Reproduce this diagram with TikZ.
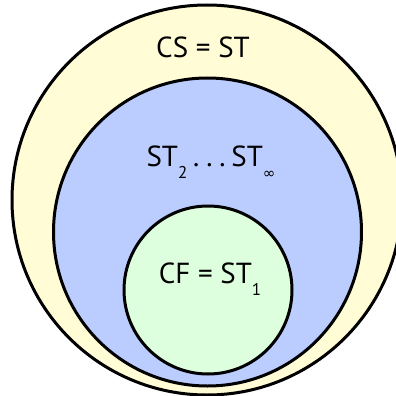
\documentclass[tikz,border=0pt]{standalone}
\usepackage{fontspec}
\setmainfont{PT Sans}
\newfontfamily\symfont{DejaVu Sans}
\usepackage{tikz, tkz-euclide}

\definecolor{csyellow}{RGB}{255,252,214}
\definecolor{stblue}{RGB}{187,205,255}
\definecolor{cfgreen}{RGB}{221,255,221}

\newcommand{\lowsub}[1]{\raisebox{-0.42em}{\fontsize{17}{17}\selectfont #1}}
\newcommand{\gapdots}{\hspace{0.2em}.\hspace{0.24em}.\hspace{0.24em}.\hspace{0.2em}}

\tikzset{
	ring/.style={line width=3pt, draw=black},
	setlabel/.style={font=\fontsize{29}{31}\selectfont, inner sep=0pt}
}

\begin{document}
\begin{tikzpicture}[x=1pt, y=-1pt]
		\useasboundingbox (0,0) rectangle (396,396);

		\tkzDefPoint(207,200){O}
		\tkzDefPoint(207.5,232){M}
		\tkzDefPoint(208,290){I}

		\draw[ring, fill=csyellow] (O) circle[radius=195pt];
		\draw[ring, fill=stblue] (M) circle[radius=154pt];
		\draw[ring, fill=cfgreen] (I) circle[radius=84pt];

		\node[setlabel, anchor=base] (cs) at (203,58) {CS = ST};
		\node[setlabel, anchor=base] (st) at (211,166) {ST\lowsub{2}\gapdots ST\lowsub{\symfont\fontsize{15}{15}\selectfont ∞}};
		\node[setlabel, anchor=base] (cf) at (210,283) {CF = ST\lowsub{1}};
	\end{tikzpicture}
\end{document}
